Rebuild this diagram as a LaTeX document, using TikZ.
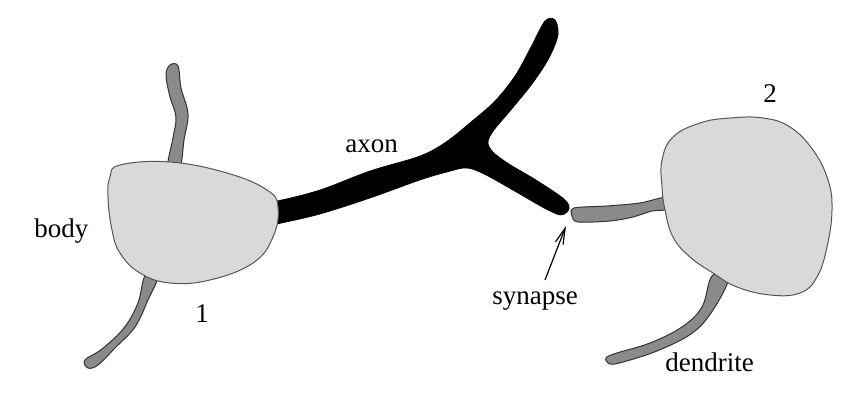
\documentclass[tikz,border=0pt]{standalone}
\usepackage{fontspec}
\setmainfont{Liberation Serif}
\usetikzlibrary{arrows.meta}
\definecolor{bodyfill}{RGB}{217,217,217}
\definecolor{bodyline}{RGB}{85,85,85}
\definecolor{dendfill}{RGB}{138,138,138}
\tikzset{
  cellbody/.style={fill=bodyfill,draw=bodyline,line width=0.5pt},
  dendshape/.style={fill=dendfill,draw=black!80,line width=0.5pt},
  axonshape/.style={fill=black,draw=black,line width=0.3pt},
  lbl/.style={font=\rmfamily\fontsize{13.5}{16}\selectfont,inner sep=0pt,anchor=base west},
  pointer/.style={-{Straight Barb[length=8pt,width=4pt]},line width=0.6pt}
}
\begin{document}
\begin{tikzpicture}[x=0.5pt,y=-0.5pt]
\useasboundingbox (0,0) rectangle (864,400);
% axon
\draw[axonshape] plot[smooth cycle,tension=0.55] coordinates {
 (262,227) (277,224) (320,214) (370,198) (420,180) (447,172) (467,168)
 (486,175) (518,193) (546,209) (561,215) (569,209) (564,199) (536,180)
 (509,164) (493,152) (488,142) (494,130) (510,111) (532,84) (549,58)
 (558,35) (555,20) (545,21) (531,47) (515,76) (495,101) (471,122)
 (446,142) (420,156) (370,171) (320,190) (277,201) (262,202)};
% dendrites of cell 1
\draw[dendshape] plot[smooth cycle,tension=0.6] coordinates {
 (168,166) (173,138) (176,117) (170,97) (166,75) (170,65) (178,66)
 (181,88) (188,114) (184,140) (180,166)};
\draw[dendshape] plot[smooth cycle,tension=0.6] coordinates {
 (145,276) (138,303) (124,328) (102,349) (85,360) (88,368) (98,365)
 (115,348) (135,327) (148,300) (158,276)};
% cell body 1
\draw[cellbody] plot[smooth cycle,tension=0.7] coordinates {
 (110,177) (120,165) (170,162) (227,173) (267,190) (278,207) (273,237)
 (253,263) (210,280) (170,283) (140,273) (120,253) (112,230) (108,197)};
% dendrites of cell 2
\draw[dendshape] plot[smooth cycle,tension=0.5] coordinates {
 (574,208) (607,206) (640,203) (668,197) (669,209) (652,211) (633,217)
 (610,221) (578,222) (572,216)};
\draw[dendshape] plot[smooth cycle,tension=0.6] coordinates {
 (712,276) (702,307) (682,327) (650,343) (617,353) (606,358) (610,364)
 (623,362) (657,351) (691,334) (711,313) (728,280)};
% cell body 2
\draw[cellbody] plot[smooth cycle,tension=0.7] coordinates {
 (730,118) (763,118) (790,127) (813,150) (828,180) (832,210) (827,247)
 (817,277) (800,293) (770,295) (737,287) (713,273) (690,257) (673,237)
 (665,210) (662,187) (662,160) (673,137) (700,123)};
% labels
\node[lbl] (body) at (34,238) {body};
\node[lbl,anchor=base] (one) at (202,323) {1};
\node[lbl] (axon) at (345,153) {axon};
\node[lbl,anchor=base] (two) at (770,103) {2};
\node[lbl] (syn) at (492,305) {synapse};
\node[lbl] (dend) at (665,372) {dendrite};
\coordinate (synTail) at (545,280);
\coordinate (synTip) at (566,226);
\draw[pointer] (synTail) -- (synTip);
\end{tikzpicture}
\end{document}
